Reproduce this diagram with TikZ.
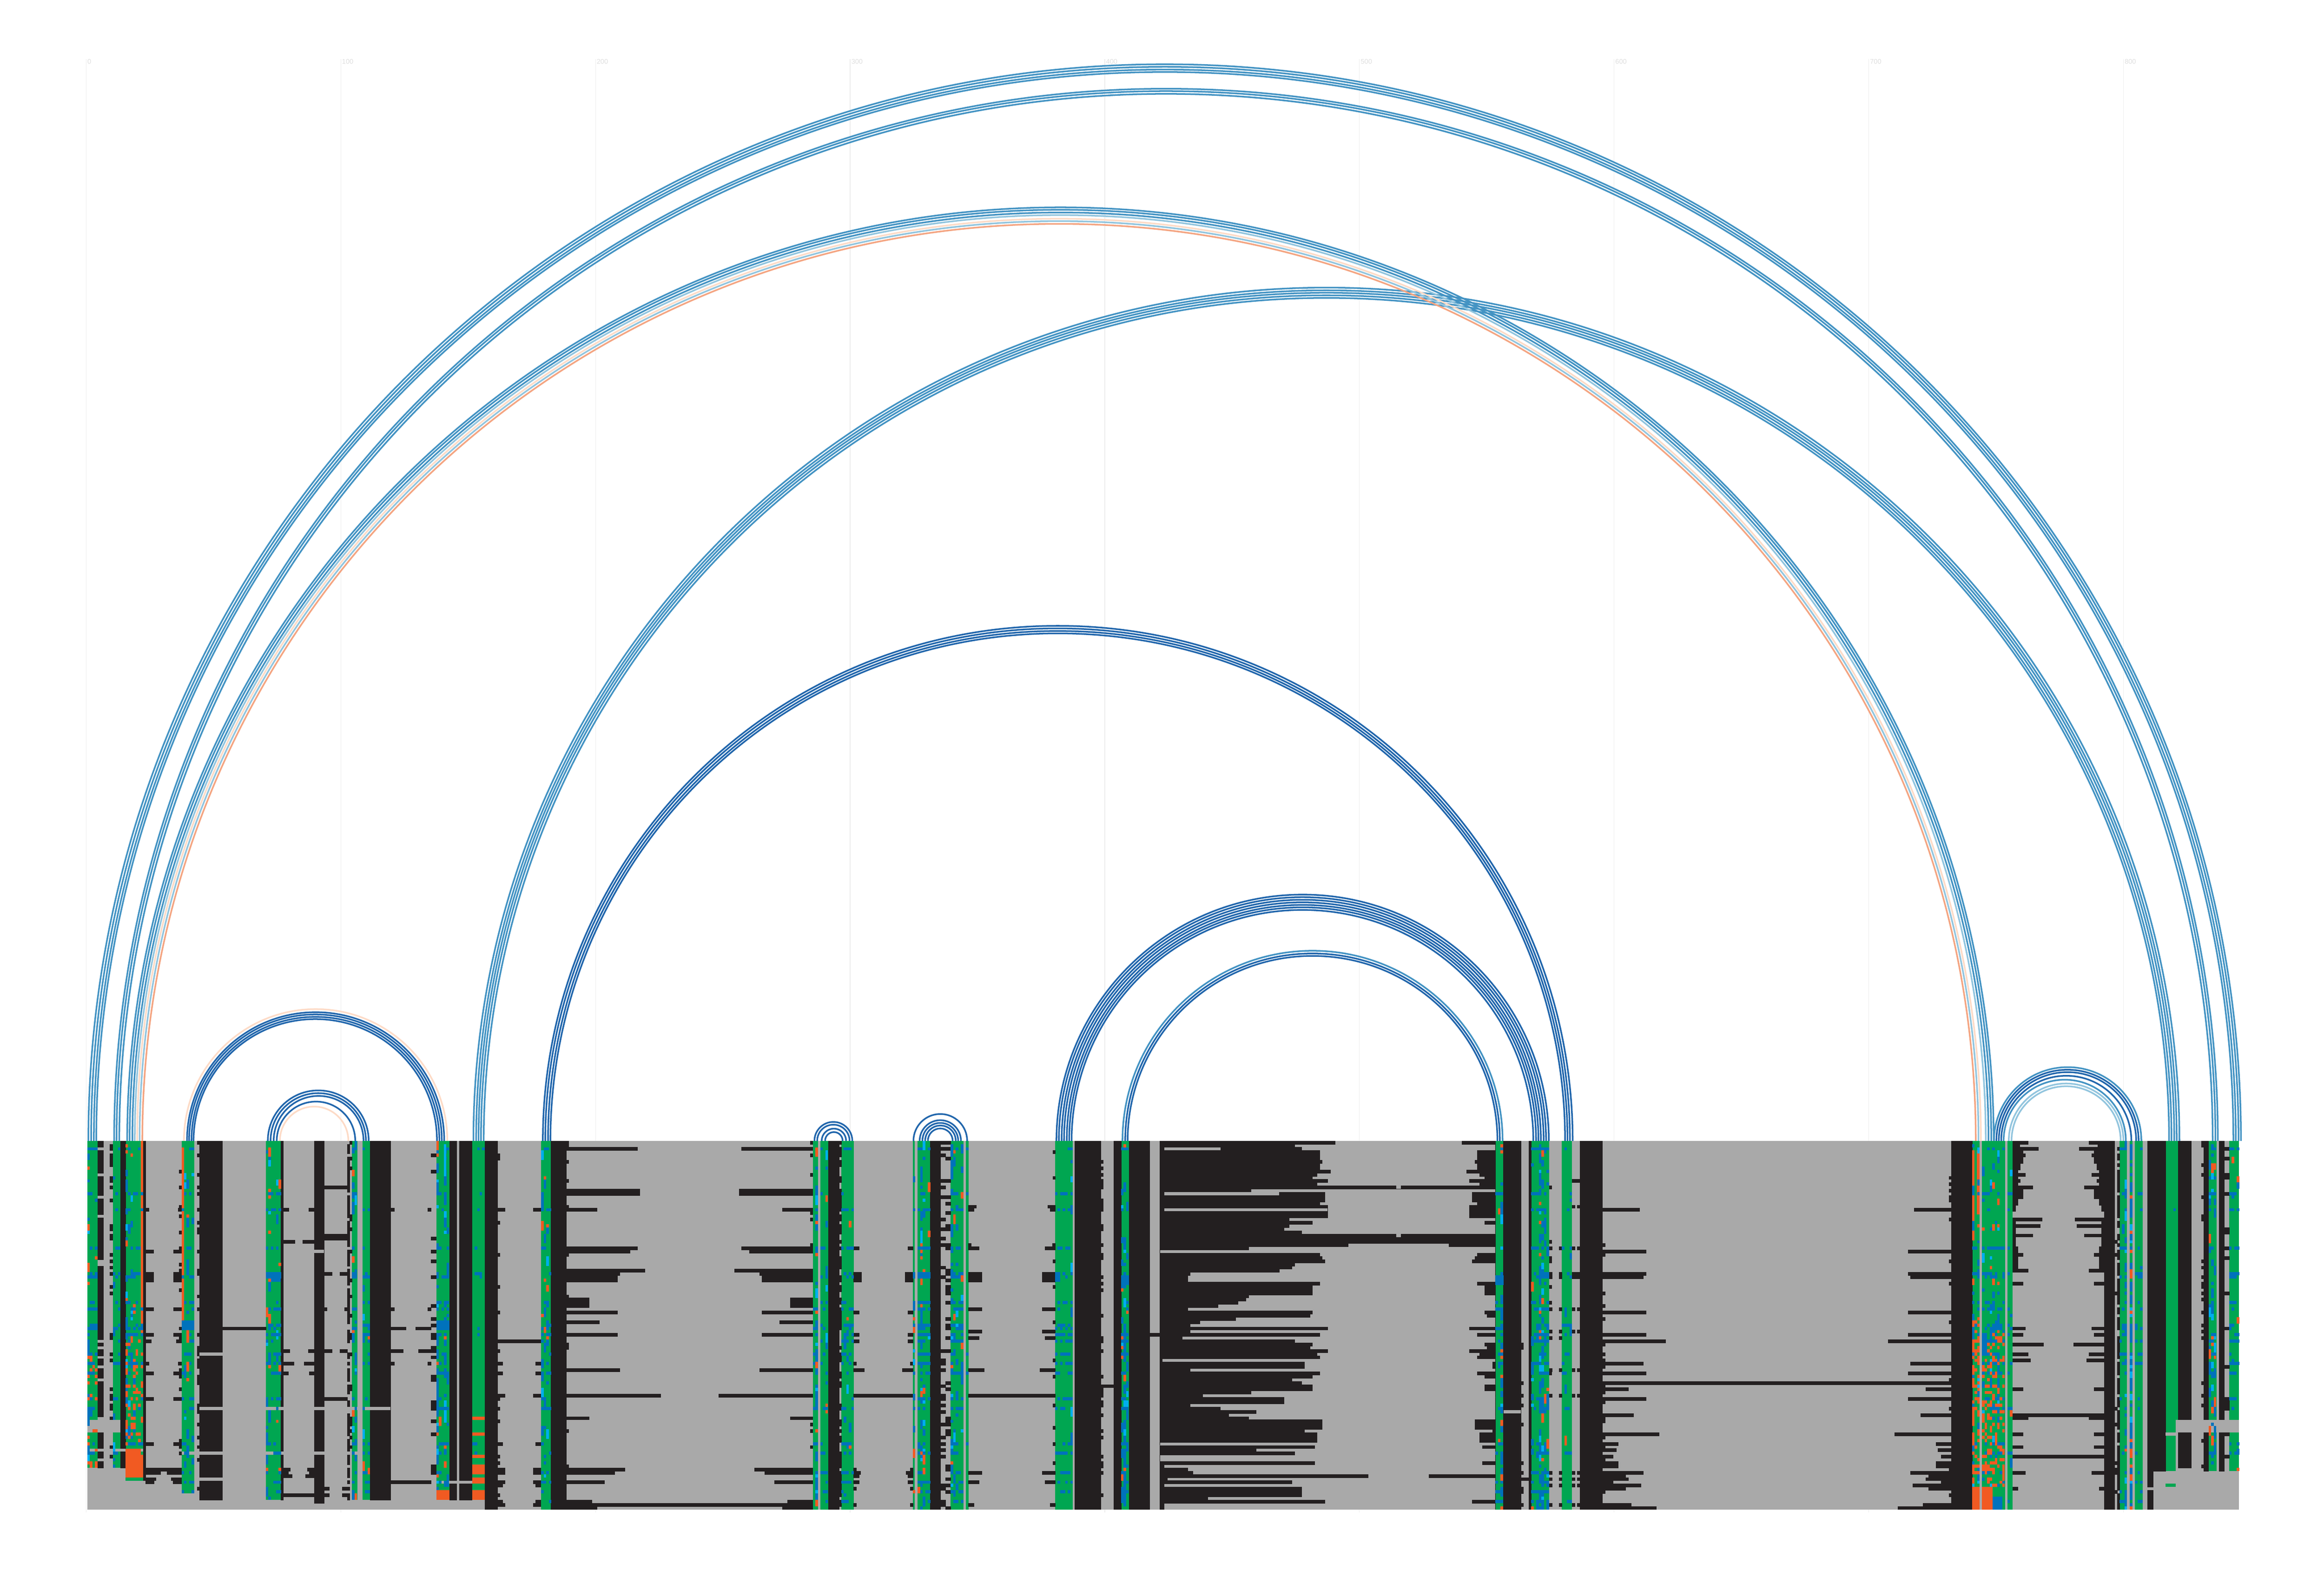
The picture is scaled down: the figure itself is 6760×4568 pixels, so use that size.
\documentclass[tikz,border=0pt]{standalone}
\usepackage{fontspec}
\setmainfont{Liberation Sans}
\definecolor{arcdark}{HTML}{2166AC}
\definecolor{arcmid}{HTML}{4393C3}
\definecolor{arclight}{HTML}{92C5DE}
\definecolor{arcpeach}{HTML}{FDDBC7}
\definecolor{arcsalmon}{HTML}{F4A582}
\definecolor{msagray}{HTML}{A9A9A9}
\definecolor{msablack}{HTML}{231F20}
\definecolor{stemgreen}{HTML}{00A651}
\definecolor{stemblue}{HTML}{0072BC}
\definecolor{stemcyan}{HTML}{00AEEF}
\definecolor{stemorange}{HTML}{F15A22}
\tikzset{
  bparc/.style={line width=1.35pt,line cap=butt},
  gapfill/.style={fill=msablack,draw=msablack,line width=0.1pt},
  rulertick/.style={draw=black!7,line width=0.45pt},
  rulerlabel/.style={text=black!13,font=\fontsize{5.6}{6}\selectfont,inner sep=0pt,anchor=west}
}
% one row of the alignment: colour, x from, x to, first row, last row
\newcommand{\cellrows}[5]{\fill[#1] (#2,{3317.5+9.32*#4}) rectangle (#3,{3317.5+9.32*(#5+1)});}
\newcommand{\pairarc}[3]{\draw[bparc,#1] (#2,3317.5) arc[start angle=180,end angle=0,radius={(#3-#2)*0.005cm}];}
\newcommand{\loopbars}[3]{%
  \foreach \r/\w in {#3}{%
    \fill[gapfill] (#1,{3317.5+9.32*\r}) rectangle ({#1+\w},{3317.5+9.32*(\r+1)});
    \fill[gapfill] ({#2-\w},{3317.5+9.32*\r}) rectangle (#2,{3317.5+9.32*(\r+1)});
  }}
% black column with holes, chance in percent
\newcommand{\brokencol}[5]{%
  \foreach \r in {#3,...,#4}{%
    \pgfmathrandominteger{\roll}{1}{100}%
    \ifnum\roll<#5\relax\cellrows{gapfill}{#1}{#2}{\r}{\r}\fi
  }}
\newcommand{\stemcell}{%
  \pgfmathrandominteger{\tint}{1}{100}%
  \ifnum\tint<62 \def\tc{stemblue}\else\ifnum\tint<78 \def\tc{stemcyan}\else\def\tc{stemorange}\fi\fi
  \pgfmathrandominteger{\tall}{0}{2}%
  \pgfmathtruncatemacro{\rto}{min(\r+\tall,\rl)}%
  \cellrows{\tc}{\cx}{\cx+7.41}{\r}{\rto}%
}
\newcommand{\brokenorange}{%
  \foreach \r in {\ra,...,\rb}{%
    \pgfmathrandominteger{\roll}{1}{100}%
    \ifnum\roll<\pc\relax\cellrows{stemorange}{\cx}{\cx+7.41}{\r}{\r}\fi
  }}
\begin{document}
\begin{tikzpicture}[x=0.01cm,y=-0.01cm]
\useasboundingbox (0,0) rectangle (6760,4568);
\pgfmathsetseed{2718}

% ruler
\foreach \n [count=\i from 0] in {0,100,200,300,400,500,600,700,800}{
  \pgfmathsetmacro{\tx}{250.6+740.75*\i}
  \draw[rulertick] (\tx,172) -- (\tx,4398);
  \node[rulerlabel] (tick\n) at (\tx+3,178.5) {\n};
}

% alignment background
\fill[msagray] (254,3317.5) rectangle (6513,4389.5);

% stems: x from, x to, last row
\foreach \xa/\xb/\rl in {254/284/101,328/350/101,365/417/105,528/565/109,773/817/111,1024/1039/111,1054/1076/111,
  1269/1307/111,1373/1410/111,1574/1602/114,2364/2379/114,2386/2410/114,2447/2483/114,2655/2661/114,2669/2706/114,
  2765/2802/114,2810/2817/114,3069/3121/114,3261/3284/114,4350/4373/114,4454/4506/114,4543/4573/114,5736/5758/114,
  5765/5832/114,5839/5854/114,6165/6187/114,6195/6203/114,6210/6232/114,6299/6336/102,6424/6447/102,6484/6513/102}{
  \cellrows{stemgreen}{\xa}{\xb}{0}{\rl}
}
\brokencol{1010}{1017}{0}{111}{75}

% solid gap columns
\foreach \xa/\xb/\rl in {350/365/101,417/423/105,580/647/111,817/824/111,914/943/112,1076/1136/111,1307/1328/111,
  1336/1373/111,1410/1447/114,1602/1647/114,2410/2441/114,2706/2735/114,3126/3202/114,3239/3261/114,3284/3343/114,
  4373/4424/114,4447/4454/114,4595/4661/114,5676/5736/114,6121/6150/114,6247/6299/102,6336/6373/101,6410/6424/102,6455/6469/102}{
  \cellrows{gapfill}{\xa}{\xb}{0}{\rl}
}
\brokencol{284}{300}{0}{101}{82}
\brokencol{319}{328}{0}{101}{35}
\brokencol{521}{528}{0}{105}{22}
\brokencol{573}{580}{0}{109}{28}
\brokencol{1017}{1024}{0}{111}{25}
\brokencol{1254}{1269}{0}{111}{18}
\brokencol{1447}{1454}{0}{114}{14}
\brokencol{1647}{1654}{0}{114}{12}
\brokencol{2357}{2364}{0}{114}{12}
\brokencol{2441}{2447}{0}{114}{65}
\brokencol{2735}{2750}{0}{114}{25}
\brokencol{2750}{2765}{0}{114}{30}
\brokencol{3062}{3069}{0}{114}{14}
\brokencol{3202}{3209}{0}{114}{35}
\brokencol{4424}{4431}{60}{114}{15}
\brokencol{4506}{4513}{0}{114}{12}
\brokencol{4661}{4669}{30}{114}{28}
\brokencol{5669}{5676}{0}{114}{12}
\brokencol{6150}{6158}{25}{114}{12}
\brokencol{6158}{6165}{0}{114}{85}
\brokencol{6247}{6262}{103}{114}{75}
\brokencol{6403}{6410}{0}{102}{22}
\brokencol{6469}{6484}{0}{102}{15}

% long middle loop, row widths from both ends
\foreach \w [count=\r from 0] in {510,392,413,465,465,465,472,465,465,496,458,444,488,458,976,265,480,480,480,465,488,488,488,488,376,444,376,362,413,
  976,976,976,548,258,0,465,472,480,392,385,348,88,81,81,465,444,444,444,258,251,228,169,81,444,437,221,117,88,488,88,465,65,392,444,437,488,458,465,7,
  421,421,88,465,444,385,413,444,444,265,125,362,362,88,176,280,200,258,472,472,472,421,458,458,458,0,451,280,392,0,0,451,13,81,96,606,22,385,13,413,413,413,140,480,13,13}{
  \pgfmathsetmacro{\wr}{max(\w-413,0)}
  \cellrows{gapfill}{3373}{3373+\w}{\r}{\r}
  \cellrows{gapfill}{4349-\wr}{4349}{\r}{\r}
}
\cellrows{msagray}{3387}{3550}{2}{2}
\cellrows{msagray}{3387}{3721}{16}{16}
\cellrows{msagray}{3387}{3861}{21}{21}
\cellrows{msagray}{4061}{4075}{14}{14}
\cellrows{msagray}{4061}{4075}{29}{29}

% shorter loops
\loopbars{1647}{2364}{2/207,15/214,16/214,21/89,33/207,34/185,40/228,41/155,42/148,43/148,49/66,50/66,51/66,53/148,56/96,60/148,71/155,79/274,86/66,102/170,103/140,106/111,112/74,113/359,114/89}
\loopbars{1447}{1573}{21/22,62/63,69/15,72/15,79/22,94/15,102/22,103/22,106/22,107/15,112/15,113/22}
\loopbars{423}{528}{21/10,34/24,41/24,42/24,43/24,52/24,60/24,62/16,69/10,72/24,80/24,94/24,102/53,103/43,105/30,106/25}
\loopbars{647}{773}{58/63}
\loopbars{824}{914}{21/16,31/34,65/18,69/30,72/15,102/20,103/15,104/25,110/45}
\loopbars{943}{1010}{14/34,29/34,30/34,41/22,52/8,65/22,80/34,108/15,110/15}
\loopbars{1136}{1254}{58/45,65/37,21/10,52/10,69/10,106/59}
\loopbars{2483}{2655}{33/15,41/22,42/22,43/22,53/15,60/15,62/15,69/8,71/30,79/86,102/8,103/20,104/15,106/15,108/8,113/8}
\loopbars{2817}{3069}{20/22,21/15,32/8,33/30,41/38,42/38,43/38,52/38,59/38,61/30,71/45,79/126,103/38,106/30,113/15}
\loopbars{3343}{3373}{60/15}
\loopbars{3202}{3239}{76/19}
\loopbars{4424}{4447}{105/12}
\loopbars{4506}{4543}{33/8,41/8,42/8,52/8,59/8,61/8,71/8,79/8,103/8,105/8,107/8,113/8}
\loopbars{4573}{4595}{12/11,20/8,33/8,41/11,42/11,52/8,59/8,71/8,79/8,103/8,105/8,107/8,113/8}
\loopbars{4661}{5676}{21/108,34/126,41/126,42/119,53/126,60/126,62/184,69/119,72/126,75/508,77/75,80/126,85/90,91/165,94/45,96/40,98/30,100/45,101/45,103/119,104/67,105/75,106/30,107/112,108/67,113/83,114/156}
\loopbars{5854}{6121}{0/45,1/20,2/74,3/30,4/37,5/30,6/30,7/22,8/22,9/15,10/37,11/15,12/22,13/15,14/59,15/30,16/30,17/30,18/15,19/15,20/8,21/8,24/85,25/8,26/80,27/8,28/8,29/59,30/8,31/8,32/8,33/15,34/15,35/30,36/15,37/15,38/15,39/15,40/45,44/30,58/37,60/30,63/89,66/45,68/52,77/30,85/134,86/45,91/30,95/30,98/134,103/37,108/15}

% gray rows crossing the columns
\cellrows{msagray}{254}{350}{87}{90}
\cellrows{msagray}{254}{417}{96}{96}
\cellrows{msagray}{528}{1039}{97}{97}
\cellrows{msagray}{773}{1136}{83}{83}
\cellrows{msagray}{580}{647}{66}{66}
\cellrows{msagray}{580}{647}{83}{83}
\cellrows{msagray}{580}{647}{105}{105}
\cellrows{msagray}{1269}{1373}{106}{106}
\cellrows{msagray}{4373}{4424}{84}{84}
\cellrows{msagray}{6336}{6513}{87}{90}
\cellrows{msagray}{6328}{6336}{87}{102}
\cellrows{msagray}{6299}{6336}{91}{91}
\cellrows{msagray}{914}{943}{34}{34}
\cellrows{stemgreen}{6299}{6328}{107}{107}

% mostly orange stretches
\foreach \xa/\xb/\ra/\rb in {410/417/0/60,528/535/2/55,5736/5743/3/30,5750/5758/3/22}{
  \cellrows{stemorange}{\xa}{\xb}{\ra}{\rb}
}
% variable cells: x from, x to, last row, percent per column, percent in the busy rows
\foreach \xa/\xb/\rl/\pc/\hv in {254/284/101/9/60,328/350/101/3/45,365/417/105/6/55,528/565/109/4/50,773/817/111/4/45,1024/1039/111/7/50,1054/1076/111/4/45,
  1269/1307/111/8/60,1373/1410/111/1/22,1574/1602/114/3/35,2364/2379/114/8/45,2386/2410/114/3/35,2447/2483/114/4/45,2655/2661/114/10/40,2669/2706/114/8/70,
  2765/2802/114/7/70,2810/2817/114/8/30,3069/3121/114/5/55,3261/3284/114/9/45,4350/4373/114/9/45,4454/4506/114/8/60,4543/4573/114/3/35,5736/5758/114/8/45,
  5765/5832/114/6/55,5839/5854/114/8/40,6165/6187/114/8/55,6195/6203/114/15/30,6210/6232/114/8/55,6299/6336/102/0/5,6424/6447/102/5/40,6484/6513/102/12/60}{
  \pgfmathtruncatemacro{\ncol}{round((\xb-\xa)/7.41)-1}
  \foreach \c in {0,...,\ncol}{
    \pgfmathsetmacro{\cx}{\xa+7.41*\c}
    \pgfmathrandominteger{\vary}{0}{3}
    \pgfmathtruncatemacro{\pa}{\pc*\vary*\vary/3}
    \foreach \r in {0,...,\rl}{
      \ifnum\r>58 \pgfmathrandominteger{\roll}{1}{65}\else\pgfmathrandominteger{\roll}{1}{100}\fi
      \ifnum\roll<\pa\relax\stemcell\fi
    }
    \foreach \r in {2,16,21,33,41,42,50,52,57,58,60,62,66,69,72,80,83,94,97,103,106,109,112}{
      \ifnum\r>\rl\relax\else
        \pgfmathrandominteger{\roll}{1}{100}
        \ifnum\roll<\hv\relax\cellrows{stemblue}{\cx}{\cx+7.41}{\r}{\r}\fi
      \fi
    }
  }
}
% orange grows towards the bottom of these stems
\foreach \xa/\ncol/\ra/\rb/\pc in {5736/2/55/107/45,5765/8/60/107/30,365/6/62/95/20,254/3/70/101/10}{
  \foreach \c in {0,...,\ncol}{
    \pgfmathsetmacro{\cx}{\xa+7.41*\c}
    \brokenorange
  }
}

% blocks seen in the lower part
\foreach \xa/\xb/\ra/\rb/\cc in {365/410/96/97/stemorange,365/417/98/104/stemorange,1269/1307/109/111/stemorange,1373/1410/86/86/stemorange,1373/1410/91/91/stemorange,
  1373/1410/98/98/stemorange,1373/1410/101/103/stemorange,1373/1410/105/106/stemorange,1373/1410/109/111/stemorange,1381/1403/87/90/stemgreen,
  5736/5758/108/114/stemorange,5765/5796/108/114/stemorange,5796/5825/108/114/stemblue,5796/5832/108/110/stemgreen,528/565/56/58/stemblue,1269/1307/56/58/stemblue,788/817/41/43/stemblue,
  1291/1298/1/10/stemcyan,3069/3084/41/43/stemblue,3261/3284/42/44/stemblue,4350/4373/42/44/stemblue}{
  \cellrows{\cc}{\xa}{\xb}{\ra}{\rb}
}
\cellrows{stemblue}{5765}{5780}{60}{66}
\cellrows{stemgreen}{5789}{5832}{20}{24}

% helices, from nearest the top of the stack to below
\foreach \a/\b in {1377/6332,1385/6324,1392/6317,1399/6309,1407/6302}{\pairarc{arcmid}{\a}{\b}}
\foreach \a/\b in {257/6509,265/6502,273/6494,280/6487,332/6442,339/6435,347/6427}{\pairarc{arcmid}{\a}{\b}}
\foreach \a/\b/\col in {370/5791/arcmid,377/5784/arcmid,385/5776/arcmid,392/5768/arclight,399/5754/arcpeach,406/5747/arclight,414/5739/arcsalmon}{\pairarc{\col}{\a}{\b}}
\foreach \a/\b in {1579/4570,1586/4562,1594/4555,1601/4548}{\pairarc{arcdark}{\a}{\b}}
\foreach \a/\b in {3073/4503,3080/4495,3088/4488,3095/4480,3103/4473,3110/4466,3117/4458}{\pairarc{arcdark}{\a}{\b}}
\foreach \a/\b/\col in {3265/4369/arcmid,3273/4361/arcdark,3280/4354/arcdark}{\pairarc{\col}{\a}{\b}}
\foreach \a/\b/\col in {535/1300/arcpeach,544/1291/arcdark,550/1284/arcdark,557/1277/arcdark,563/1270/arcdark}{\pairarc{\col}{\a}{\b}}
\foreach \a/\b/\col in {779/1072/arcdark,787/1064/arcdark,796/1057/arcdark,805/1033/arcdark,814/1013/arcpeach}{\pairarc{\col}{\a}{\b}}
\foreach \a/\b in {2369/2479,2377/2471,2390/2461,2400/2451}{\pairarc{arcdark}{\a}{\b}}
\foreach \a/\b in {2657/2813,2675/2795,2683/2787,2691/2780,2699/2771}{\pairarc{arcdark}{\a}{\b}}
\foreach \a/\b/\col in {5800/6228/arcmid,5807/6220/arcdark,5814/6213/arcdark,5821/6199/arcdark,5828/6183/arcmid,5843/6176/arclight,5851/6168/arclight}{\pairarc{\col}{\a}{\b}}
\end{tikzpicture}
\end{document}
